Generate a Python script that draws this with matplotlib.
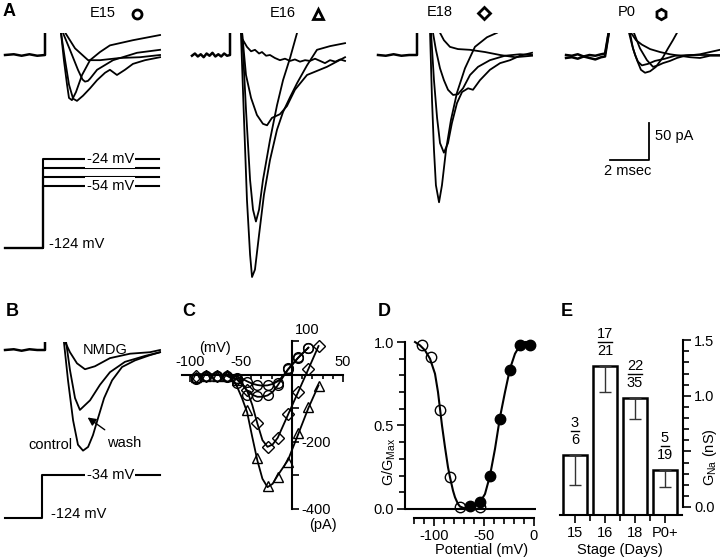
import numpy as np
import matplotlib
matplotlib.use('Agg')
import matplotlib.pyplot as plt
from matplotlib.lines import Line2D
from matplotlib.transforms import offset_copy
from matplotlib.ticker import FixedLocator, MultipleLocator

plt.rcParams['font.family'] = ['Liberation Sans', 'DejaVu Sans']
plt.rcParams['font.size'] = 10.5
plt.rcParams['axes.unicode_minus'] = False
plt.rcParams['mathtext.fontset'] = 'custom'
plt.rcParams['mathtext.rm'] = 'Liberation Sans'
plt.rcParams['mathtext.it'] = 'Liberation Sans:italic'

W, H = 720, 560
MS_PX = 19.5    # pixels per msec (2 msec scale bar)
PA_PX = 0.74    # pixels per pA (50 pA scale bar)

# ---------------- A : Na currents (msec, pA) ----------------
e15_pre_t = [-2.05, -1.6, -1.2, -0.8, -0.4, 0.0, 0.0]
e15_pre_i = [0, 1, -1, 1, -1, 0, 40]
e15_t = [[0.8, 1.54, 2.21, 2.82, 3.85, 4.87, 5.9],
         [0.92, 1.28, 1.69, 1.92, 2.05, 2.2, 2.31, 2.67, 3.49, 4.72, 5.9],
         [0.82, 0.97, 1.13, 1.23, 1.38, 1.59, 1.9, 2.31, 2.82, 3.33, 4.51, 5.9],
         [0.82, 1.03, 1.23, 1.44, 1.64, 1.95, 2.31, 2.67, 3.08, 3.33, 3.69, 4.1, 4.51, 5.13, 5.9]]
e15_i = [[40, 9, -7, -7, -4, -3, 0],
         [30, 7, -20, -33, -36, -35, -32, -20, -7, 3, 7],
         [30, -7, -40, -58, -61, -50, -27, -7, 4, 13, 20, 27],
         [30, -7, -40, -59, -62, -55, -45, -34, -24, -20, -27, -20, -12, -7, -3]]

e16_pre_t = [-1.95, -1.8, -1.65, -1.5, -1.35, -1.2, -1.05, -0.9, -0.75, -0.6, -0.45, -0.3, -0.15, 0.0, 0.0]
e16_pre_i = [-1, 2, -2, 1, -3, 2, -1, 3, -2, 1, -2, 2, -1, 0, 40]
e16_t = [[0.56, 0.72, 0.87, 1.03, 1.13, 1.28, 1.49, 1.74, 2.05, 2.41, 2.72, 3.08, 3.44, 3.95, 4.46, 5.13, 5.9],
         [0.62, 0.82, 1.03, 1.18, 1.33, 1.49, 1.69, 2.05, 2.41, 2.72, 3.08, 3.44],
         [0.62, 0.82, 1.08, 1.38, 1.69, 1.9, 2.15, 2.56, 2.92, 3.33, 3.95, 4.97, 5.9],
         [0.67, 0.87, 1.08, 1.28, 1.49, 1.64, 1.85, 2.05, 2.3, 2.56, 2.82, 3.08, 3.33, 3.59, 3.85, 4.1, 4.36, 4.62, 4.87, 5.13, 5.4, 5.65, 5.9]]
e16_i = [[30, -88, -196, -270, -300, -290, -243, -189, -142, -101, -77, -57, -38, -14, 7, 12, 16],
         [30, -74, -169, -209, -225, -209, -169, -115, -68, -34, -4, 30],
         [30, -27, -58, -81, -93, -95, -85, -80, -69, -47, -27, -16, -3],
         [20, 11, 5, 7, 2, 4, -1, 0, -4, -7, -5, -8, -6, -9, -7, -8, -5, -8, -11, -7, -9, -6, -8]]

e18_pre_t = [-2.0, -1.6, -1.2, -0.8, -0.4, 0.0, 0.0]
e18_pre_i = [0, -1, 1, -1, 0, 0, 40]
e18_t = [[0.67, 0.77, 0.87, 0.97, 1.13, 1.28, 1.49, 1.74, 2.05, 2.46, 2.97, 3.59, 4.1],
         [0.72, 0.87, 1.03, 1.18, 1.38, 1.59, 1.79, 2.05, 2.31, 2.62, 2.87, 3.23, 3.74, 4.26, 4.77, 5.28, 5.9],
         [0.82, 0.97, 1.18, 1.38, 1.59, 1.85, 2.1, 2.36, 2.72, 3.13, 3.74, 4.51, 5.28, 5.9],
         [1.18, 1.38, 1.69, 2.1, 2.72, 3.49, 4.26, 5.03, 5.9]]
e18_i = [[30, -61, -128, -176, -199, -176, -128, -88, -51, -18, 11, 24, 30],
         [30, -34, -85, -119, -132, -119, -92, -65, -50, -45, -47, -34, -20, -11, -7, -1, 3],
         [30, 7, -18, -34, -47, -54, -53, -45, -27, -16, -7, -1, 1, 0],
         [30, 20, 11, 8, 7, 4, 0, -3, -1]]

p0_pre_t = [[-2.1, -1.8, -1.5, -1.2, -0.9, -0.6, -0.3, -0.1, 0.15],
            [-2.1, -1.8, -1.5, -1.2, -0.9, -0.6, -0.3, -0.1, 0.15]]
p0_pre_i = [[0, -1, 1, -2, 0, -1, 1, 2, 40],
            [-4, -3, -5, -2, -4, -6, -3, -2, 40]]
p0_t = [[1.18, 1.33, 1.54, 1.74, 1.95, 2.21, 2.51, 2.87, 3.13, 3.38, 3.59],
        [1.13, 1.28, 1.44, 1.59, 1.79, 2.1, 2.46, 2.97, 3.49, 4.26, 5.03, 5.79],
        [1.23, 1.49, 1.79, 2.21, 2.72, 3.23, 3.74, 4.26, 4.77, 5.28, 5.79],
        [1.38, 1.69, 2.05, 2.36, 2.62, 2.87, 3.23, 3.59, 4.0, 4.41, 4.77, 5.28, 5.79]]
p0_i = [[30, 9, -7, -20, -24, -22, -16, -3, 9, 20, 30],
        [30, 14, 0, -9, -14, -12, -8, -5, -1, 0, 0, 0],
        [30, 20, 14, 8, 4, 1, -1, -3, -4, -1, -1],
        [30, 9, -7, -16, -14, -11, -8, -4, -1, 0, 1, 4, 7]]

hold_mv = -124
steps_a = [-24, -34, -44, -54]

# ---------------- B : NMDG substitution ----------------
b_pre_t = [-2.05, -1.6, -1.2, -0.8, -0.4, 0.0, 0.0]
b_pre_i = [0, 1, -1, 1, 0, 0, 20]
b_nmdg_t = [1.03, 1.28, 1.64, 2.05, 2.56, 3.33, 4.36, 5.38, 5.9]
b_nmdg_i = [11, -3, -18, -26, -22, -11, -5, -3, 0]
b_wash_t = [1.08, 1.28, 1.54, 1.79, 2.31, 2.82, 3.33, 4.1, 5.13, 5.9]
b_wash_i = [11, -27, -65, -81, -68, -47, -30, -16, -8, -3]
b_ctrl_t = [0.97, 1.18, 1.44, 1.69, 1.95, 2.21, 2.46, 2.72, 3.03, 3.44, 3.95, 4.62, 5.38, 5.9]
b_ctrl_i = [11, -41, -95, -128, -136, -131, -115, -92, -65, -41, -23, -14, -7, -3]
step_b = -34

# ---------------- C : I-V ----------------
iv_v = [-94, -84, -74, -64, -54, -44, -34, -24, -14, -4, 6, 16, 26]
iv_circ_a = [-14, -5, -4, -4, -10, -22, -30, -32, -25, 20, 52, 80]
iv_circ_b = [-10, -4, -4, -6, -25, -60, -65, -62, -30, 18, 50, 80]
iv_tri = [-8, -3, -3, -5, -15, -105, -248, -332, -305, -260, -174, -96, -34]
iv_dia = [-5, -3, -3, -4, -12, -45, -145, -215, -190, -118, -52, 16, 85]

fit_v = [-94, -74, -64, -59, -54, -49, -44, -39, -34, -29, -24, -19, -14, -4, 6, 16, 26]
fit_tri = [0, 0, -3, -12, -35, -70, -112, -185, -255, -310, -335, -325, -300, -255, -178, -100, -32]
fit_dia = [0, 0, -2, -6, -14, -26, -48, -90, -145, -195, -215, -208, -188, -120, -52, 16, 85]
fit_circ_v = [-94, -74, -64, -54, -49, -44, -39, -34, -29, -24, -19, -14, -9, -4, 6, 16]
fit_circ_a = [0, 0, -1, -6, -12, -20, -27, -31, -33, -32, -28, -20, -5, 15, 50, 80]
fit_circ_b = [0, 0, -2, -14, -30, -48, -60, -66, -66, -62, -52, -32, -8, 15, 50, 80]

# ---------------- D : activation / inactivation ----------------
inact_v = [-112, -103, -94, -84, -74, -54]
inact_g = [0.98, 0.91, 0.59, 0.19, 0.01, 0.01]
act_v = [-64, -54, -44, -34, -24, -14, -4]
act_g = [0.02, 0.04, 0.20, 0.54, 0.83, 0.98, 0.98]
inact_fit_v = [-119, -114, -109, -104, -99, -96, -94, -92, -89, -86, -84, -81, -79, -76, -74, -70, -66, -60]
inact_fit_g = [1.0, 0.98, 0.95, 0.9, 0.81, 0.7, 0.6, 0.5, 0.37, 0.25, 0.19, 0.11, 0.07, 0.03, 0.015, 0.005, 0.0, 0.0]
act_fit_v = [-75, -70, -64, -58, -54, -49, -44, -39, -34, -29, -24, -19, -14, -9, -4]
act_fit_g = [0.0, 0.003, 0.01, 0.025, 0.04, 0.09, 0.2, 0.36, 0.55, 0.7, 0.84, 0.93, 0.98, 1.0, 1.0]

# ---------------- E : conductance by stage ----------------
stages = ['15', '16', '18', 'P0+']
gna = [0.47, 1.27, 0.98, 0.33]
gna_sem = [0.27, 0.24, 0.19, 0.15]
n_resp = [3, 17, 22, 5]
n_total = [6, 21, 35, 19]

fig = plt.figure(figsize=(7.2, 5.6), dpi=100)


def px_axes(left, top, right, bottom):
    return fig.add_axes([left / W, 1 - bottom / H, (right - left) / W, (bottom - top) / H])


def trace_axes(left, top, right, bottom, x0, y0):
    ax = px_axes(left, top, right, bottom)
    ax.set_xlim((left - x0) / MS_PX, (right - x0) / MS_PX)
    ax.set_ylim((y0 - bottom) / PA_PX, (y0 - top) / PA_PX)
    ax.axis('off')
    return ax


def proto_axes(left, top, right, bottom, x0, mv_px, v_ref, y_ref):
    ax = px_axes(left, top, right, bottom)
    ax.set_xlim((left - x0) / MS_PX, (right - x0) / MS_PX)
    ax.set_ylim(v_ref - (bottom - y_ref) / mv_px, v_ref - (top - y_ref) / mv_px)
    ax.axis('off')
    return ax


def ftext(x, y, s, **kw):
    fig.text(x / W, 1 - y / H, s, **kw)


def fmark(x, y, m, ms):
    fig.add_artist(Line2D([x / W], [1 - y / H], marker=m, ms=ms, mfc='none', mec='k',
                          mew=2, transform=fig.transFigure))


LW = 1.3
# A traces
for left, right, x0, pre_t, pre_i, tt, ii in [
        (0, 175, 45, [e15_pre_t], [e15_pre_i], e15_t, e15_i),
        (185, 355, 230, [e16_pre_t], [e16_pre_i], e16_t, e16_i),
        (370, 540, 417, [e18_pre_t], [e18_pre_i], e18_t, e18_i),
        (560, 720, 607, p0_pre_t, p0_pre_i, p0_t, p0_i)]:
    ax = trace_axes(left, 33, right, 285, x0, 55)
    for t, i in zip(pre_t, pre_i):
        ax.plot(t, i, color='k', lw=1.8)
    for t, i in zip(tt, ii):
        ax.plot(t, i, color='k', lw=LW)
    if x0 == 607:
        # scale bar 2 msec / 50 pA
        ax.plot([0.15, 2.15, 2.15], [-142, -142, -92], color='k', lw=1.3, clip_on=False)

# A voltage protocol
ax = proto_axes(0, 140, 170, 262, 43, 0.883, -124, 247.5)
for v in steps_a:
    ax.plot([-1.95, 0, 0, 5.95], [hold_mv, hold_mv, v, v], color='k', lw=1.5)
for v in (-24, -54):
    ax.text(3.45, v, '%d mV' % v, ha='center', va='center',
            bbox=dict(facecolor='white', edgecolor='none', pad=1.0))
ax.text(0.3, hold_mv + 4, '%d mV' % hold_mv, ha='left', va='center')

# B traces
ax = trace_axes(0, 342, 170, 465, 45, 350)
ax.plot(b_pre_t, b_pre_i, color='k', lw=1.8)
ax.plot(b_nmdg_t, b_nmdg_i, color='k', lw=LW)
ax.plot(b_wash_t, b_wash_i, color='k', lw=LW)
ax.plot(b_ctrl_t, b_ctrl_i, color='k', lw=LW)
ax.text(3.08, 0, 'NMDG', ha='center', va='center')
ax.text(0.3, -128, 'control', ha='center', va='center')
ax.text(4.05, -126, 'wash', ha='center', va='center')
ax.annotate('', xy=(2.07, -89), xytext=(3.18, -110),
            arrowprops=dict(arrowstyle='-|>', color='k', lw=1.0, mutation_scale=12))

ax = proto_axes(0, 460, 170, 532, 42, 0.478, -124, 518)
ax.plot([-1.9, 0, 0, 6.05], [hold_mv, hold_mv, step_b, step_b], color='k', lw=1.5)
ax.text(3.5, step_b, '%d mV' % step_b, ha='center', va='center',
        bbox=dict(facecolor='white', edgecolor='none', pad=1.0))
ax.text(0.45, -116, '%d mV' % hold_mv, ha='left', va='center')

# C : I-V
axc = px_axes(292 - 110 * 1.02, 374.6 - 105 * 0.336, 292 + 52 * 1.02, 374.6 + 420 * 0.336)
axc.set_xlim(-110, 52)
axc.set_ylim(-420, 105)
axc.patch.set_alpha(0)
for s in ('bottom', 'left'):
    axc.spines[s].set_visible(False)
axc.spines['top'].set_position(('data', 0))
axc.spines['top'].set_bounds(-108, 50)
axc.spines['right'].set_position(('data', 0))
axc.spines['right'].set_bounds(-400, 100)
for s in ('top', 'right'):
    axc.spines[s].set_linewidth(1.5)
axc.xaxis.tick_top()
axc.yaxis.tick_right()
axc.xaxis.set_major_locator(FixedLocator([-100, -50, 50]))
axc.xaxis.set_minor_locator(FixedLocator([-90, -80, -70, -60, -40, -30, -20, -10, 10, 20, 30, 40]))
axc.tick_params(axis='x', which='both', direction='in', width=1.2, pad=4)
axc.tick_params(axis='x', which='major', length=5)
axc.tick_params(axis='x', which='minor', length=3)
axc.yaxis.set_major_locator(FixedLocator([-400, -200]))
axc.yaxis.set_minor_locator(FixedLocator([100, -100, -300]))
axc.tick_params(axis='y', which='both', direction='out', width=1.2, pad=2)
axc.tick_params(axis='y', which='major', length=5)
axc.tick_params(axis='y', which='minor', length=5)
axc.plot(fit_v, fit_tri, color='k', lw=1.3)
axc.plot(fit_v, fit_dia, color='k', lw=1.3)
axc.plot(fit_circ_v, fit_circ_a, color='k', lw=1.3)
axc.plot(fit_circ_v, fit_circ_b, color='k', lw=1.3)
mk = dict(ls='none', mfc='none', mec='k', mew=1.0, clip_on=False)
axc.plot(iv_v[:12], iv_circ_a, marker='o', ms=7, **mk)
axc.plot(iv_v[:12], iv_circ_b, marker='o', ms=7, **mk)
axc.plot(iv_v, iv_tri, marker='^', ms=7.5, **mk)
axc.plot(iv_v, iv_dia, marker='D', ms=6, **mk)
axc.text(15, 133, '100', ha='center', va='center')
axc.text(-75, 79, '(mV)', ha='center', va='center')
axc.text(30, -448, '(pA)', ha='center', va='center')

# D : G/Gmax
axd = px_axes(405, 339, 536, 518)
axd.set_xlim(-129, 2)
axd.set_ylim(-0.054, 1.018)
axd.patch.set_alpha(0)
for s in ('top', 'right'):
    axd.spines[s].set_visible(False)
axd.spines['left'].set_bounds(0, 1)
axd.spines['bottom'].set_bounds(-120, 0)
for s in ('left', 'bottom'):
    axd.spines[s].set_linewidth(1.5)
axd.axhline(0, color='k', lw=1.5)
axd.xaxis.set_major_locator(FixedLocator([-100, -50, 0]))
axd.xaxis.set_minor_locator(MultipleLocator(10))
axd.yaxis.set_major_locator(FixedLocator([0, 0.5, 1.0]))
axd.yaxis.set_minor_locator(MultipleLocator(0.1))
axd.set_yticklabels(['0.0', '0.5', '1.0'])
axd.tick_params(which='both', direction='out', width=1.2, pad=2)
axd.tick_params(which='major', length=6)
axd.tick_params(which='minor', length=4)
axd.plot(inact_fit_v, inact_fit_g, color='k', lw=1.5)
axd.plot(act_fit_v, act_fit_g, color='k', lw=1.5)
axd.plot(inact_v, inact_g, ls='none', marker='o', ms=7.5, mfc='none', mec='k', mew=1.0, clip_on=False)
axd.plot(act_v, act_g, ls='none', marker='o', ms=7.5, mfc='k', mec='k', clip_on=False)
ftext(482, 550, 'Potential (mV)', ha='center', va='center')
ftext(389, 462, r'G/G$_{\mathrm{Max}}$', ha='center', va='center', rotation=90)

# E : bars
axe = px_axes(560, 338, 683, 515)
axe.set_xlim(-0.5, 3.6)
axe.set_ylim(-0.072, 1.52)
axe.patch.set_alpha(0)
for s in ('top', 'left'):
    axe.spines[s].set_visible(False)
axe.spines['right'].set_bounds(0, 1.5)
axe.spines['bottom'].set_bounds(-0.5, 3.57)
for s in ('right', 'bottom'):
    axe.spines[s].set_linewidth(1.5)
x = np.arange(len(stages))
base = axe.get_ylim()[0]
axe.bar(x, np.array(gna) - base, bottom=base, width=0.77, color='white',
        edgecolor='k', lw=1.8, zorder=2)
axe.errorbar(x, gna, yerr=[gna_sem, [0] * len(gna)], fmt='none', ecolor='0.2',
             elinewidth=1.0, capsize=4.5, capthick=1.0, zorder=3)
axe.yaxis.tick_right()
axe.xaxis.set_major_locator(FixedLocator(list(x)))
axe.set_xticklabels(stages)
axe.xaxis.set_minor_locator(FixedLocator([0.5, 1.5, 2.5]))
axe.yaxis.set_major_locator(FixedLocator([0, 0.5, 1.0, 1.5]))
axe.yaxis.set_minor_locator(MultipleLocator(0.1))
axe.set_yticklabels(['0.0', '', '1.0', '1.5'])
axe.tick_params(which='both', direction='out', width=1.2, pad=2)
axe.tick_params(which='major', length=6)
axe.tick_params(which='minor', length=4)
for xi, g, a, b in zip(x, gna, n_resp, n_total):
    axe.text(xi, g, str(b), ha='center', va='center',
             transform=offset_copy(axe.transData, fig=fig, y=15, units='dots'))
    axe.text(xi, g, str(a), ha='center', va='center',
             transform=offset_copy(axe.transData, fig=fig, y=32, units='dots'))
    hw = 0.12 * len(str(a))
    axe.plot([xi - hw, xi + hw], [g, g], color='k', lw=1.0, clip_on=False,
             transform=offset_copy(axe.transData, fig=fig, y=24, units='dots'))
ftext(620, 550, 'Stage (Days)', ha='center', va='center')
ftext(710, 457, r'G$_{\mathrm{Na}}$ (nS)', ha='center', va='center', rotation=90)

# labels
for lab, lx, ly in [('A', 9, 11), ('B', 12, 311), ('C', 189, 311), ('D', 384, 311), ('E', 567, 311)]:
    ftext(lx, ly, lab, ha='center', va='center', fontsize=13, fontweight='bold')
ftext(103, 13, 'E15', ha='center', va='center')
ftext(283, 13, 'E16', ha='center', va='center')
ftext(440, 12, 'E18', ha='center', va='center')
ftext(627, 12, 'P0', ha='center', va='center')
fmark(137, 14, 'o', 6.5)
fmark(318, 14, '^', 7.5)
fmark(484, 13, 'D', 6.5)
fmark(661, 14, 'h', 7.5)
ftext(655, 136, '50 pA', ha='left', va='center')
ftext(628, 171, '2 msec', ha='center', va='center')

fig.savefig('out.png', dpi=100)
